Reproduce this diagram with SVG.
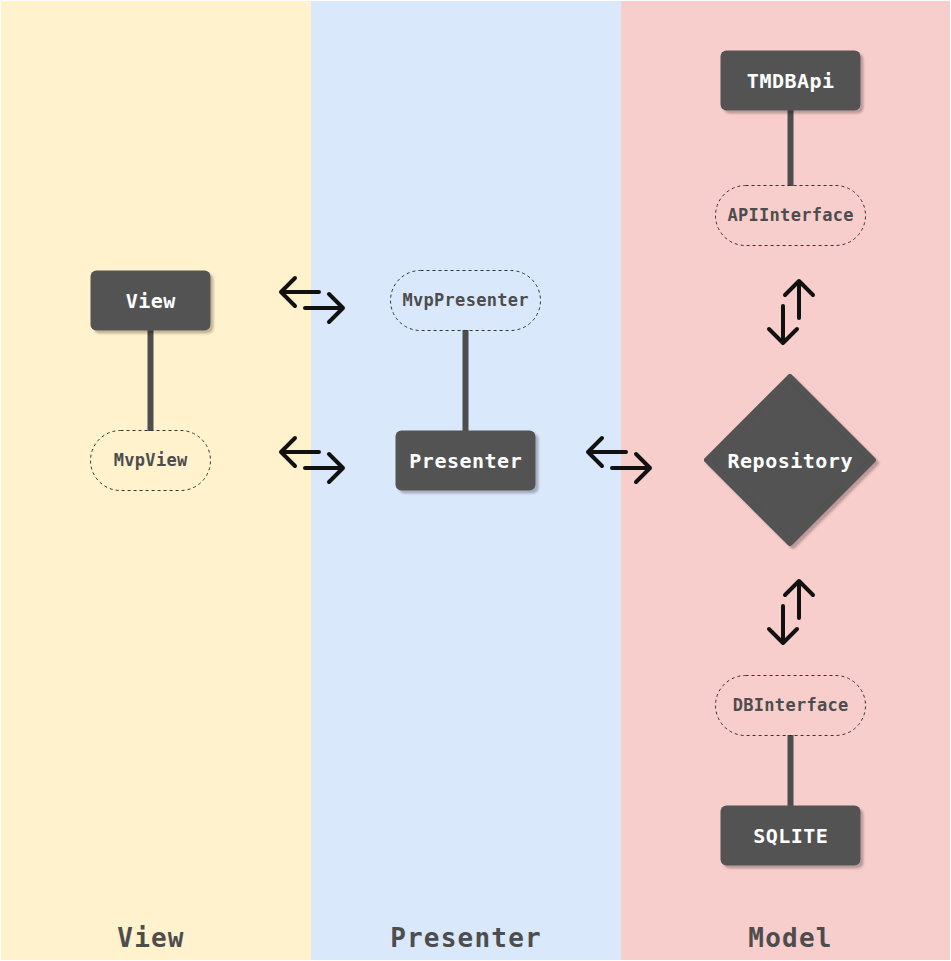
<svg xmlns="http://www.w3.org/2000/svg" width="951" height="961" viewBox="0 0 951 961">
<style>
.node{fill:#525252;filter:url(#sh)}
.ntxt{font-family:"DejaVu Sans Mono","Liberation Mono",monospace;font-weight:bold;font-size:20px;letter-spacing:0.5px;fill:#ffffff;text-anchor:middle}
.iface{fill:none;stroke:#333333;stroke-width:1;stroke-dasharray:3 3}
.itxt{font-family:"DejaVu Sans Mono","Liberation Mono",monospace;font-weight:bold;font-size:17px;letter-spacing:0.3px;fill:#4d4d4d;text-anchor:middle}
.ttl{font-family:"DejaVu Sans Mono","Liberation Mono",monospace;font-weight:bold;font-size:26px;letter-spacing:1.2px;fill:#4d4d4d;text-anchor:middle}
.link{stroke:#4d4d4d;stroke-width:6;fill:none}
.arr{stroke:#111111;stroke-width:4;fill:none;stroke-linecap:round;stroke-linejoin:round}
</style>
<defs>
<filter id="sh" x="-10%" y="-10%" width="130%" height="130%">
<feDropShadow dx="3" dy="3" stdDeviation="0.8" flood-color="#000000" flood-opacity="0.25"/>
</filter>
</defs>
<rect x="0" y="0" width="951" height="961" fill="#ffffff"/>
<g id="lanes">
<rect x="1" y="1" width="310" height="959" fill="#fff2cc"/>
<rect x="311" y="1" width="310" height="959" fill="#dae8fc"/>
<rect x="621" y="1" width="329" height="959" fill="#f8cecc"/>
<text class="ttl" x="151" y="947">View</text>
<text class="ttl" x="466" y="947">Presenter</text>
<text class="ttl" x="790.5" y="947">Model</text>
</g>
<g id="connectors">
<line class="link" x1="150.5" y1="330" x2="150.5" y2="431"/>
<line class="link" x1="465.5" y1="330" x2="465.5" y2="431"/>
<line class="link" x1="790.5" y1="110" x2="790.5" y2="186"/>
<line class="link" x1="790.5" y1="735" x2="790.5" y2="806"/>
<path class="arr" d="M319 292H281M295 278L281 292L295 306"/>
<path class="arr" d="M305 308H343M329 294L343 308L329 322"/>
<path class="arr" d="M319 452H281M295 438L281 452L295 466"/>
<path class="arr" d="M305 468H343M329 454L343 468L329 482"/>
<path class="arr" d="M626 452H588M602 438L588 452L602 466"/>
<path class="arr" d="M612 468H650M636 454L650 468L636 482"/>
<path class="arr" d="M799 318V281M785 295L799 281L813 295"/>
<path class="arr" d="M783 306V343M769 329L783 343L797 329"/>
<path class="arr" d="M799 618V581M785 595L799 581L813 595"/>
<path class="arr" d="M783 606V643M769 629L783 643L797 629"/>
</g>
<g id="View">
<rect class="node" x="90.5" y="270.5" width="120" height="60" rx="6"/>
<text class="ntxt" x="150.75" y="308">View</text>
</g>
<g id="MvpView">
<rect class="iface" x="90.5" y="430.5" width="120" height="60" rx="30"/>
<text class="itxt" x="150.65" y="466">MvpView</text>
</g>
<g id="MvpPresenter">
<rect class="iface" x="390.5" y="270.5" width="150" height="60" rx="30"/>
<text class="itxt" x="465.65" y="306">MvpPresenter</text>
</g>
<g id="Presenter">
<rect class="node" x="395.5" y="430.5" width="140" height="60" rx="6"/>
<text class="ntxt" x="465.75" y="468">Presenter</text>
</g>
<g id="TMDBApi">
<rect class="node" x="720.5" y="50.5" width="140" height="60" rx="6"/>
<text class="ntxt" x="790.75" y="88">TMDBApi</text>
</g>
<g id="APIInterface">
<rect class="iface" x="715.5" y="185.5" width="150" height="60" rx="30"/>
<text class="itxt" x="790.65" y="221">APIInterface</text>
</g>
<g id="Repository">
<polygon points="790,377 873,460 790,543 707,460" fill="#525252" stroke="#525252" stroke-width="6" stroke-linejoin="round" filter="url(#sh)"/>
<text class="ntxt" x="790.25" y="468">Repository</text>
</g>
<g id="DBInterface">
<rect class="iface" x="715.5" y="675.5" width="150" height="60" rx="30"/>
<text class="itxt" x="790.65" y="711">DBInterface</text>
</g>
<g id="SQLITE">
<rect class="node" x="720.5" y="805.5" width="140" height="60" rx="6"/>
<text class="ntxt" x="790.75" y="843">SQLITE</text>
</g>
</svg>
